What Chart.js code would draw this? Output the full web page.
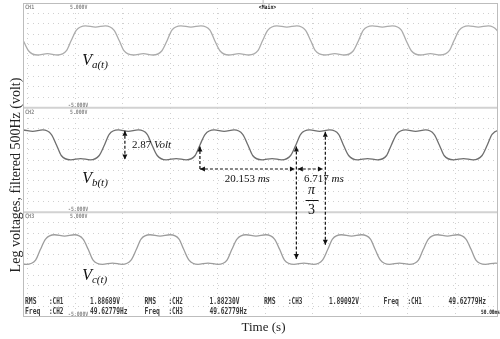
<!DOCTYPE html>
<html>
<head>
<meta charset="utf-8">
<script src="https://cdn.jsdelivr.net/npm/chart.js@4.4.1/dist/chart.umd.min.js"></script>
<style>
html, body { margin:0; padding:0; background:#fff; }
#wrap { position:relative; width:500px; height:339px; }
</style>
</head>
<body>
<div id="wrap"><canvas id="scope" width="500" height="339"></canvas></div>
<script>
// time in ms (10 ms / div), each channel panel is -5..5 V
var timeTicks = [0, 10, 20, 30, 40, 50, 60, 70, 80, 90];
var voltTicks = [-4, -3, -2, -1, 0, 1, 2, 3, 4];

// CH1 - leg a
var aTime = [-5.9, -3.8, -1.9, -0.9, 0.2, 2.1, 4.2,
  6.3, 8.2, 9.2, 10.3, 12.2, 14.3, 16.4, 18.2, 19.3, 20.3, 22.3, 24.4,
  26.4, 28.3, 29.4, 30.4, 32.3, 34.4, 36.5, 38.4, 39.4, 40.5, 42.4, 44.5,
  46.6, 48.5, 49.5, 50.6, 52.5, 54.6, 56.7, 58.5, 59.6, 60.6, 62.6, 64.7,
  66.7, 68.6, 69.7, 70.7, 72.6, 74.7, 76.8, 78.7, 79.7, 80.8, 82.7, 84.8,
  86.9, 88.8, 89.8, 90.9, 92.8, 94.9, 97.0, 98.8, 99.9, 100.9, 102.9];
var aVolt = [2.70, 2.82, 2.41, 1.42, 0.44, 0.03, 0.16,
  0.03, 0.44, 1.42, 2.41, 2.82, 2.70, 2.82, 2.41, 1.42, 0.44, 0.03, 0.16,
  0.03, 0.44, 1.42, 2.41, 2.82, 2.70, 2.82, 2.41, 1.42, 0.44, 0.03, 0.16,
  0.03, 0.44, 1.42, 2.41, 2.82, 2.70, 2.82, 2.41, 1.42, 0.44, 0.03, 0.16,
  0.03, 0.44, 1.42, 2.41, 2.82, 2.70, 2.82, 2.41, 1.42, 0.44, 0.03, 0.16,
  0.03, 0.44, 1.42, 2.41, 2.82, 2.70, 2.82, 2.41, 1.42, 0.44, 0.03];

// CH2 - leg b
var bTime = [-7.0, -5.1, -4.0, -3.0, -1.1, 1.1, 3.2, 5.0, 6.1, 7.1, 9.1, 11.2,
  13.2, 15.1, 16.2, 17.2, 19.1, 21.2, 23.3, 25.2, 26.2, 27.3, 29.2, 31.3,
  33.4, 35.3, 36.3, 37.4, 39.3, 41.4, 43.5, 45.3, 46.4, 47.4, 49.4, 51.5,
  53.5, 55.4, 56.5, 57.5, 59.4, 61.5, 63.6, 65.5, 66.5, 67.6, 69.5, 71.6,
  73.7, 75.6, 76.6, 77.7, 79.6, 81.7, 83.8, 85.6, 86.7, 87.7, 89.7, 91.8,
  93.8, 95.7, 96.8, 97.8, 99.7, 101.8];
var bVolt = [0.01, 0.43, 1.44, 2.45, 2.87, 2.74, 2.87, 2.45, 1.44, 0.43, 0.01, 0.14,
  0.01, 0.43, 1.44, 2.45, 2.87, 2.74, 2.87, 2.45, 1.44, 0.43, 0.01, 0.14,
  0.01, 0.43, 1.44, 2.45, 2.87, 2.74, 2.87, 2.45, 1.44, 0.43, 0.01, 0.14,
  0.01, 0.43, 1.44, 2.45, 2.87, 2.74, 2.87, 2.45, 1.44, 0.43, 0.01, 0.14,
  0.01, 0.43, 1.44, 2.45, 2.87, 2.74, 2.87, 2.45, 1.44, 0.43, 0.01, 0.14,
  0.01, 0.43, 1.44, 2.45, 2.87, 2.74];

// CH3 - leg c
var cTime = [-4.4, -2.3,
  -0.3, 1.7, 2.7, 3.8, 5.7, 7.8, 9.9, 11.7, 12.8, 13.8, 15.8, 17.9,
  19.9, 21.8, 22.9, 23.9, 25.8, 27.9, 30.0, 31.9, 32.9, 34.0, 35.9, 38.0,
  40.1, 42.0, 43.0, 44.1, 46.0, 48.1, 50.2, 52.0, 53.1, 54.1, 56.1, 58.2,
  60.2, 62.1, 63.2, 64.2, 66.1, 68.2, 70.3, 72.2, 73.2, 74.3, 76.2, 78.3,
  80.4, 82.3, 83.3, 84.4, 86.3, 88.4, 90.5, 92.3, 93.4, 94.4, 96.4, 98.5,
  100.5, 102.4];
var cVolt = [0.03, 0.15,
  0.03, 0.43, 1.44, 2.44, 2.86, 2.73, 2.86, 2.44, 1.44, 0.43, 0.03, 0.15,
  0.03, 0.43, 1.44, 2.44, 2.86, 2.73, 2.86, 2.44, 1.44, 0.43, 0.03, 0.15,
  0.03, 0.43, 1.44, 2.44, 2.86, 2.73, 2.86, 2.44, 1.44, 0.43, 0.03, 0.15,
  0.03, 0.43, 1.44, 2.44, 2.86, 2.73, 2.86, 2.44, 1.44, 0.43, 0.03, 0.15,
  0.03, 0.43, 1.44, 2.44, 2.86, 2.73, 2.86, 2.44, 1.44, 0.43, 0.03, 0.15,
  0.03, 0.43];

var channelNames = ["CH1", "CH2", "CH3"];
var waveSubs = ["a(t)", "b(t)", "c(t)"];
var rmsValues = ["1.88689V", "1.88230V", "1.89092V"];
var freqValues = ["49.62779Hz", "49.62779Hz", "49.62779Hz"];
var peakText = "2.87";
var periodText = "20.153";
var shiftText = "6.717";

function points(times, volts) {
  return times.map(function (t, i) { return { x: t, y: volts[i] }; });
}

function panelScale(w) {
  return {
    type: 'linear', position: 'left', stack: 'scope', stackWeight: 1, weight: w,
    min: -5, max: 5,
    afterBuildTicks: function (s) { s.ticks = voltTicks.map(function (v) { return { value: v }; }); },
    ticks: { display: false },
    grid: { color: '#d0d0d0', lineWidth: 1, drawTicks: false },
    border: { display: false, dash: [1, 4] }
  };
}

function squeezed(c, text, x, y, sx) {
  c.save(); c.translate(x, y); c.scale(sx, 1); c.fillText(text, 0, 0); c.restore();
}

function arrow(c, x1, y1, x2, y2, head1, head2) {
  c.save();
  c.setLineDash([3, 2]);
  c.beginPath(); c.moveTo(x1, y1); c.lineTo(x2, y2); c.stroke();
  c.setLineDash([]);
  var ang = Math.atan2(y2 - y1, x2 - x1);
  function head(x, y, a) {
    c.beginPath();
    c.moveTo(x, y);
    c.lineTo(x - 5 * Math.cos(a) + 2.5 * Math.sin(a), y - 5 * Math.sin(a) - 2.5 * Math.cos(a));
    c.lineTo(x - 5 * Math.cos(a) - 2.5 * Math.sin(a), y - 5 * Math.sin(a) + 2.5 * Math.cos(a));
    c.closePath(); c.fill();
  }
  if (head2) head(x2, y2, ang);
  if (head1) head(x1, y1, ang + Math.PI);
  c.restore();
}

var overlay = {
  id: 'overlay',
  afterDraw: function (chart) {
    var c = chart.ctx, a = chart.chartArea, sx = chart.scales.x;
    var panels = [chart.scales.yA, chart.scales.yB, chart.scales.yC];
    var yA = panels[0], yB = panels[1], yC = panels[2];
    function X(t) { return sx.getPixelForValue(t); }
    c.save();

    // panel separators and frame
    c.strokeStyle = '#d2d2d2'; c.lineWidth = 2;
    [yA, yB].forEach(function (s) {
      c.beginPath(); c.moveTo(a.left, s.bottom); c.lineTo(a.right, s.bottom); c.stroke();
    });
    c.strokeStyle = '#bdbdbd'; c.lineWidth = 1;
    c.strokeRect(a.left + 0.5, a.top + 0.5, a.width - 1, a.height - 1);
    // trigger mark
    c.beginPath(); c.moveTo(X(49.5) + 0.5, 0); c.lineTo(X(49.5) + 0.5, a.top + 1); c.stroke();

    // scope labels
    c.fillStyle = '#8a8a8a';
    c.font = 'bold 6px "DejaVu Sans Mono"';
    panels.forEach(function (s, i) {
      squeezed(c, channelNames[i], a.left + 2, s.top + 6, 0.85);
      squeezed(c, '5.000V', a.left + 47, s.top + 6, 0.8);
      squeezed(c, '-5.000V', a.left + 45, s.bottom - 1, 0.8);
    });
    c.fillStyle = '#222';
    squeezed(c, '<Main>', X(48.7), a.top + 6, 0.8);
    squeezed(c, '50.00ms', a.right - 17, a.bottom - 3, 0.75);

    // measurement rows
    c.fillStyle = '#3a3a3a';
    c.font = 'bold 8px "DejaVu Sans Mono"';
    var rows = [
      [['RMS', ':' + channelNames[0], rmsValues[0]], ['RMS', ':' + channelNames[1], rmsValues[1]],
       ['RMS', ':' + channelNames[2], rmsValues[2]], ['Freq', ':' + channelNames[0], freqValues[0]]],
      [['Freq', ':' + channelNames[1], freqValues[1]], ['Freq', ':' + channelNames[2], freqValues[2]]]
    ];
    rows.forEach(function (row, r) {
      var y = a.bottom - 13 + r * 10;
      row.forEach(function (g, k) {
        var x0 = a.left + 2 + k * 119.5;
        squeezed(c, g[0], x0, y, 0.8);
        squeezed(c, g[1], x0 + 24, y, 0.75);
        squeezed(c, g[2], x0 + 65, y, 0.78);
      });
    });

    // wave names
    c.fillStyle = '#111';
    var nameY = [[yA, -0.93], [yB, -2.2], [yC, -1.46]];
    nameY.forEach(function (p, i) {
      var x = X(11.5), y = p[0].getPixelForValue(p[1]);
      c.font = 'italic 16px "Liberation Serif"';
      c.fillText('V', x, y);
      var w = c.measureText('V').width;
      c.font = 'italic 11px "Liberation Serif"';
      c.fillText(waveSubs[i], x + w, y + 3);
    });

    // measurement arrows
    c.strokeStyle = '#111'; c.fillStyle = '#111'; c.lineWidth = 1.2;
    var px = X(20.5);
    arrow(c, px, yB.getPixelForValue(2.8), px, yB.getPixelForValue(0.05), true, true);
    var lvl = yB.getPixelForValue(-0.86);
    arrow(c, X(36.3), lvl, X(36.3), yB.getPixelForValue(1.3), false, true);
    arrow(c, X(36.3), lvl, X(56.3), lvl, true, true);
    arrow(c, X(56.9), lvl, X(62.2), lvl, true, true);
    arrow(c, X(56.6), yB.getPixelForValue(1.3), X(56.6), yC.getPixelForValue(0.55), true, true);
    arrow(c, X(62.7), yB.getPixelForValue(2.7), X(62.7), yC.getPixelForValue(1.9), true, true);

    // measurement texts
    c.textBaseline = 'middle';
    function mixed(x, y, num, unit) {
      c.font = '11px "Liberation Serif"';
      c.fillText(num, x, y);
      var w = c.measureText(num).width;
      c.font = 'italic 11px "Liberation Serif"';
      c.fillText(unit, x + w, y);
    }
    mixed(X(22.0), yB.getPixelForValue(1.43), peakText, ' Volt');
    mixed(X(41.5), yB.getPixelForValue(-1.8), periodText, ' ms');
    mixed(X(58.2), yB.getPixelForValue(-1.8), shiftText, ' ms');
    c.textAlign = 'center';
    var fx = X(59.8);
    c.font = 'italic 14px "Liberation Serif"';
    c.fillText('\u03c0', fx, yB.getPixelForValue(-2.9));
    c.beginPath(); c.setLineDash([]); c.lineWidth = 1;
    var fy = Math.round(yB.getPixelForValue(-3.8)) + 0.5;
    c.moveTo(fx - 6, fy); c.lineTo(fx + 7, fy); c.stroke();
    c.font = '14px "Liberation Serif"';
    c.fillText('3', fx, yB.getPixelForValue(-4.8));

    // axis titles
    c.fillStyle = '#222';
    c.font = '13px "Liberation Serif"';
    c.fillText('Time (s)', (a.left + a.right) / 2 + 3, a.bottom + 11);
    c.translate(16, (a.top + a.bottom) / 2 + 15);
    c.rotate(-Math.PI / 2);
    c.font = '14px "Liberation Serif"';
    c.fillText('Leg voltages, filtered 500Hz (volt)', 0, 0);
    c.restore();
  }
};

var ctx = document.getElementById('scope').getContext('2d');
var chart = new Chart(ctx, {
  type: 'line',
  data: {
    datasets: [
      { label: 'Va', data: points(aTime, aVolt), yAxisID: 'yA', borderColor: '#acacac' },
      { label: 'Vb', data: points(bTime, bVolt), yAxisID: 'yB', borderColor: '#6f6f6f' },
      { label: 'Vc', data: points(cTime, cVolt), yAxisID: 'yC', borderColor: '#9d9d9d' }
    ]
  },
  options: {
    responsive: false,
    animation: false,
    layout: { padding: { left: 23, right: 2, top: 3, bottom: 22 } },
    elements: {
      line: { borderWidth: 1.3, cubicInterpolationMode: 'monotone', fill: false },
      point: { radius: 0 }
    },
    plugins: { legend: { display: false }, tooltip: { enabled: false } },
    scales: {
      x: {
        type: 'linear', min: -0.95, max: 99.05,
        afterBuildTicks: function (s) { s.ticks = timeTicks.map(function (v) { return { value: v }; }); },
        ticks: { display: false },
        grid: { color: '#d0d0d0', lineWidth: 1, drawTicks: false },
        border: { display: false, dash: [1, 4] }
      },
      yA: panelScale(3),
      yB: panelScale(2),
      yC: panelScale(1)
    }
  },
  plugins: [overlay]
});
</script>
</body>
</html>
